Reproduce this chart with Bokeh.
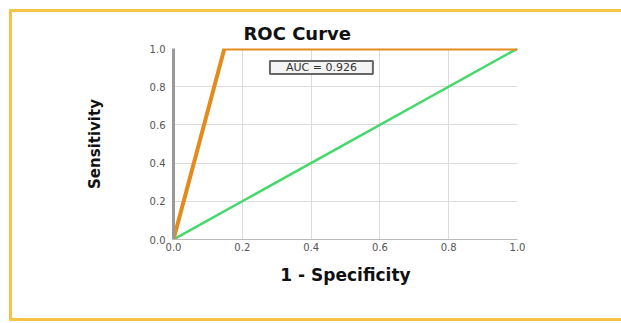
from bokeh.plotting import figure
from bokeh.models import Range1d, FixedTicker, PrintfTickFormatter, Label
from bokeh.embed import file_html
from bokeh.resources import INLINE

# Data
fpr_model = [0.0, 0.148, 1.0]
tpr_model = [0.0, 1.0, 1.0]
fpr_ref = [0.0, 1.0]
tpr_ref = [0.0, 1.0]
tick_values = [0.0, 0.2, 0.4, 0.6, 0.8, 1.0]
auc_label = "AUC = 0.926"
auc_pos = (0.43, 0.9)

p = figure(width=609, height=306, output_backend="svg", toolbar_location=None,
           x_range=Range1d(0, 1), y_range=Range1d(0, 1),
           min_border_left=161, min_border_right=107, min_border_top=36, min_border_bottom=85,
           title="ROC Curve")
p.styles = {"border-left": "3px solid #F6C445", "border-top": "3px solid #F6C445",
            "border-bottom": "3px solid #F6C445", "box-sizing": "content-box",
            "margin-left": "9px", "margin-top": "9px"}
p.outline_line_color = None
p.background_fill_color = "white"
p.border_fill_color = "white"

p.title.text_font = "DejaVu Sans"
p.title.text_font_size = "18px"
p.title.text_font_style = "bold"
p.title.text_color = "#111111"
p.title.align = "left"
p.title.offset = 70
p.title.standoff = 9

for ax in (p.xaxis[0], p.yaxis[0]):
    ax.ticker = FixedTicker(ticks=tick_values)
    ax.formatter = PrintfTickFormatter(format="%.1f")
    ax.major_label_text_font = "DejaVu Sans"
    ax.major_label_text_font_size = "10px"
    ax.major_label_text_color = "#555555"
    ax.major_tick_out = 0
    ax.major_tick_in = 0
    ax.minor_tick_out = 0
    ax.minor_tick_in = 0
    ax.axis_label_text_font = "DejaVu Sans"
    ax.axis_label_text_font_style = "bold"
    ax.axis_label_text_color = "#111111"

p.xaxis.axis_label = "1 - Specificity"
p.xaxis.axis_label_text_font_size = "17px"
p.xaxis.axis_label_standoff = 11
p.xaxis.major_label_standoff = 3
p.xaxis.axis_line_color = "#bbbbbb"
p.xaxis.axis_line_width = 1

p.yaxis.axis_label = "Sensitivity"
p.yaxis.axis_label_text_font_size = "15px"
p.yaxis.axis_label_standoff = 43
p.yaxis.major_label_standoff = 8
p.yaxis.axis_line_color = "#999999"
p.yaxis.axis_line_width = 3

p.grid.grid_line_color = "#dcdcdc"
p.grid.grid_line_width = 1

p.line(fpr_ref, tpr_ref, line_color="#46D86C", line_width=2.5)
p.line(fpr_model, tpr_model, line_color="#E38B1C", line_width=4)

lab = Label(x=auc_pos[0], y=auc_pos[1], text=auc_label, text_align="center",
            text_baseline="middle", text_font="DejaVu Sans", text_font_size="11px",
            text_color="#333333", border_line_color="#666666", border_line_width=2,
            background_fill_color="#f4f4f4",
            padding=dict(left=16, right=16, top=0, bottom=0))
p.add_layout(lab)

open("out.html", "w").write(file_html(p, INLINE))
